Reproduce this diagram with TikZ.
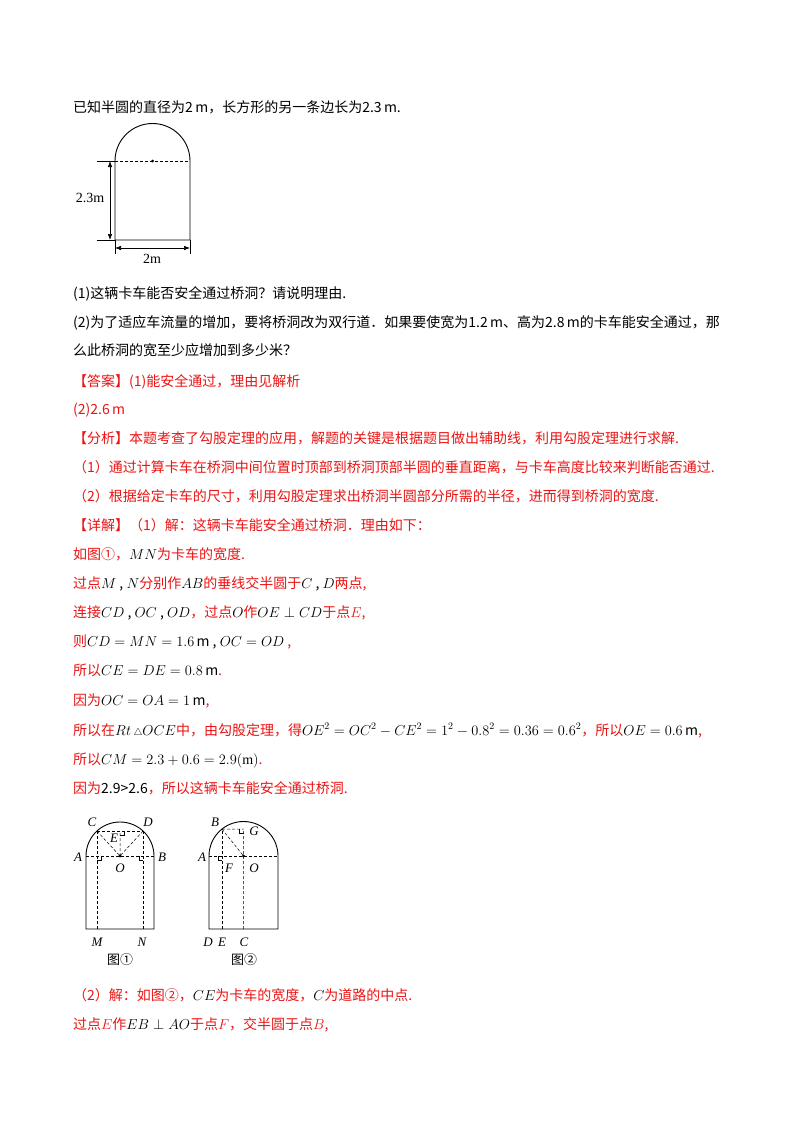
\documentclass[tikz,border=0pt]{standalone}
\usepackage{fontspec}
\setmainfont{Liberation Serif}
\newfontfamily\cjk{Noto Sans CJK SC}
\usetikzlibrary{arrows.meta}
\definecolor{rd}{RGB}{235,20,20}
\newcommand{\bk}[1]{{\color{black}#1}}
\begin{document}
\begin{tikzpicture}[x=1pt,y=-1pt,
  t/.style={anchor=base west,inner sep=0pt,font=\fontsize{14}{16}\selectfont\cjk},
  r/.style={t,text=rd},
  lb/.style={inner sep=0pt,font=\fontsize{13}{15}\selectfont\itshape},
  dsh/.style={densely dashed,line width=0.8pt},
  ln/.style={line width=0.9pt}]
\useasboundingbox[fill=white] (0,0) rectangle (800,1132);
% texts
\node[t] (l1) at (73,112) {已知半圆的直径为2\,m，长方形的另一条边长为2.3\,m.};
\node[t] (l2) at (73,298) {(1)这辆卡车能否安全通过桥洞？请说明理由.};
\node[t] (l3) at (73,327) {(2)为了适应车流量的增加，要将桥洞改为双行道．如果要使宽为1.2\,m、高为2.8\,m的卡车能安全通过，那};
\node[t] (l4) at (73,355) {么此桥洞的宽至少应增加到多少米？};
\node[r] (l5) at (73,386) {【答案】(1)能安全通过，理由见解析};
\node[r] (l6) at (73,414) {(2)2.6\,m};
\node[r] (l7) at (73,443) {【分析】本题考查了勾股定理的应用，解题的关键是根据题目做出辅助线，利用勾股定理进行求解.};
\node[r] (l8) at (73,472) {（1）通过计算卡车在桥洞中间位置时顶部到桥洞顶部半圆的垂直距离，与卡车高度比较来判断能否通过.};
\node[r] (l9) at (73,501) {（2）根据给定卡车的尺寸，利用勾股定理求出桥洞半圆部分所需的半径，进而得到桥洞的宽度.};
\node[r] (l10) at (73,530) {【详解】（1）解：这辆卡车能安全通过桥洞．理由如下：};
\node[r] (l11) at (73,559) {如图①，\bk{$MN$}为卡车的宽度.};
\node[r] (l12) at (73,588) {过点\bk{$M$ , $N$}分别作\bk{$AB$}的垂线交半圆于\bk{$C$ , $D$}两点,};
\node[r] (l13) at (73,617) {连接\bk{$CD$ , $OC$ , $OD$}，过点\bk{$O$}作\bk{$OE\perp CD$}于点$E$,};
\node[r] (l14) at (73,646) {则\bk{$CD=MN=1.6$\,m , $OC=OD$} ,};
\node[r] (l15) at (73,675) {所以\bk{$CE=DE=0.8$\,m}.};
\node[r] (l16) at (73,705) {因为\bk{$OC=OA=1$\,m},};
\node[r] (l17) at (73,735) {所以在\bk{$Rt\,{\scriptstyle\triangle}OCE$}中，由勾股定理，得\bk{$OE^2=OC^2-CE^2=1^2-0.8^2=0.36=0.6^2$}，所以\bk{$OE=0.6$\,m},};
\node[r] (l18) at (73,764) {所以\bk{$CM=2.3+0.6=2.9(\mathrm{m})$}.};
\node[r] (l19) at (73,793) {因为\bk{2.9>2.6}，所以这辆卡车能安全通过桥洞.};
\node[r] (l20) at (73,1000) {（2）解：如图②，\bk{$CE$}为卡车的宽度，\bk{$C$}为道路的中点.};
\node[r] (l21) at (73,1029) {过点$E$作\bk{$EB\perp AO$}于点$F$，交半圆于点$B$,};
% top figure
\draw[ln] (115,240) -- (115,161) arc[start angle=180,end angle=360,radius=37.5] -- (190,240) -- cycle;
\draw[dsh,line width=0.5pt] (115,161) -- (190,161);
\fill (152.5,161) circle (1.5);
\draw[line width=0.5pt] (97,161) -- (115,161) (97,240) -- (115,240) (115,240) -- (115,254) (190,240) -- (190,254);
\draw[line width=0.6pt,{Latex[length=6pt]}-{Latex[length=6pt]}] (110,161) -- (110,240);
\draw[line width=0.6pt,{Latex[length=6pt]}-{Latex[length=6pt]}] (115,248) -- (190,248);
\node[inner sep=0pt,font=\fontsize{14}{16}\selectfont] (d1) at (90,198) {2.3m};
\node[inner sep=0pt,font=\fontsize{14}{16}\selectfont] (d2) at (152,259) {2m};
% figure 1
\draw[ln] (86,929) -- (86,856) arc[start angle=180,end angle=360,radius=34] -- (154,929) -- cycle;
\coordinate (O1) at (120,856);
\coordinate (C1) at (97,831); \coordinate (D1) at (143,831); \coordinate (E1) at (120,831);
\draw[dsh] (86,856) -- (154,856);
\draw[dsh] (97,929) -- (C1) (143,929) -- (D1) (C1) -- (D1);
\draw[dsh,line width=0.5pt] (C1) -- (O1) -- (D1) (O1) -- (E1);
\fill (O1) circle (1.6);
\draw[line width=0.5pt] (120,835) -- (124,835) -- (124,831);
\draw[line width=0.5pt] (97,860) -- (101,860) -- (101,856) (143,860) -- (139,860) -- (139,856);
\node[lb] at (92,822) {C}; \node[lb] at (148,822) {D}; \node[lb] at (114,838) {E};
\node[lb] at (78,857) {A}; \node[lb] at (162,857) {B}; \node[lb] at (120,868) {O};
\node[lb] at (97,942) {M}; \node[lb] at (142,942) {N};
\node[inner sep=0pt,font=\fontsize{13}{15}\selectfont\cjk] at (120,960) {图①};
% figure 2
\draw[ln] (209,929) -- (209,856) arc[start angle=180,end angle=360,radius=34.5] -- (278,929) -- cycle;
\coordinate (O2) at (243.5,856);
\coordinate (B2) at (222,829); \coordinate (G2) at (243.5,829);
\draw[dsh] (209,856) -- (278,856);
\draw[dsh] (222,929) -- (B2);
\draw[dsh,line width=0.5pt] (B2) -- (G2) (B2) -- (O2) (243.5,929) -- (G2);
\fill (O2) circle (1.6);
\draw[line width=0.5pt] (243.5,833) -- (239.5,833) -- (239.5,829);
\draw[line width=0.5pt] (222,860) -- (218,860) -- (218,856);
\node[lb] at (215,822) {B}; \node[lb] at (254,831) {G};
\node[lb] at (202,857) {A}; \node[lb] at (229,868) {F}; \node[lb] at (254,868) {O};
\node[lb] at (208,942) {D}; \node[lb] at (222,942) {E}; \node[lb] at (244,942) {C};
\node[inner sep=0pt,font=\fontsize{13}{15}\selectfont\cjk] at (244,960) {图②};
\end{tikzpicture}
\end{document}
